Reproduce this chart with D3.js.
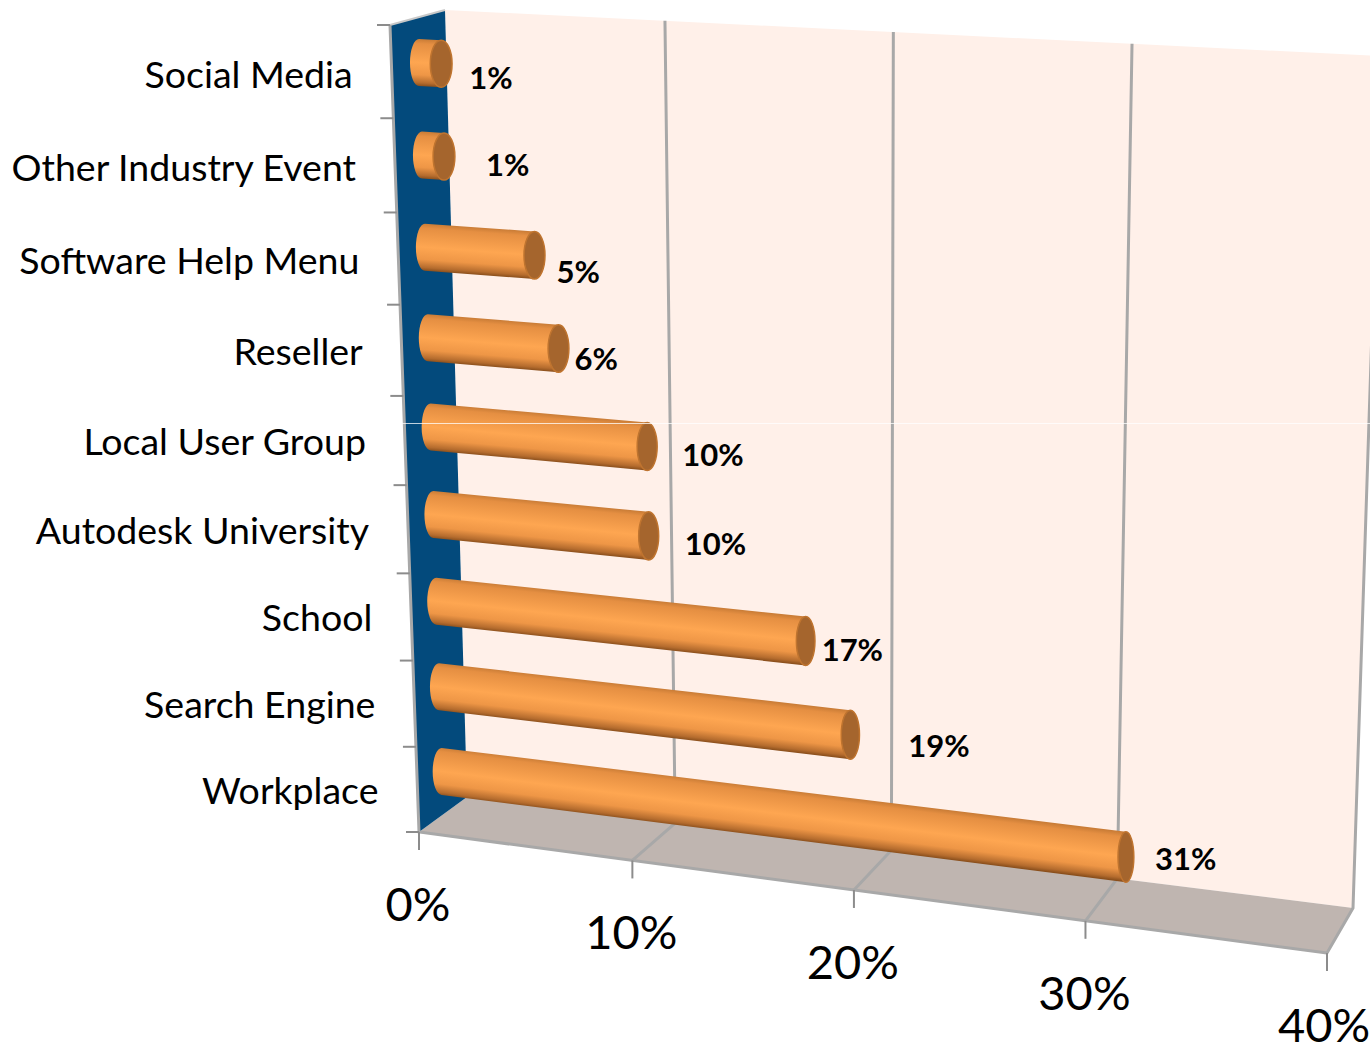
<!DOCTYPE html>
<html>
<head>
<meta charset="utf-8">
<script src="https://cdn.jsdelivr.net/npm/d3@7"></script>
<style>
  html, body { margin: 0; padding: 0; background: #fff; }
  svg { display: block; }
  text { font-family: Lato, "Noto Sans", sans-serif; fill: #000; }
</style>
</head>
<body>
<div id="chart"></div>
<script>
const categories = ["Social Media", "Other Industry Event", "Software Help Menu", "Reseller",
  "Local User Group", "Autodesk University", "School", "Search Engine", "Workplace"];
const values = [1, 1, 5, 6, 10, 10, 17, 19, 31];
const axisTicks = [0, 10, 20, 30, 40];

const width = 1370, height = 1048;

const svg = d3.select("#chart").append("svg")
  .attr("width", width)
  .attr("height", height);

// --- perspective: the value axis gets wider to the right, categories get tighter downward ---
const valueFrac = d3.scaleLinear().domain(axisTicks).range([0, 0.235, 0.479, 0.734, 1]);
const catFrac = d3.scaleLinear()
  .domain(d3.range(10))
  .range([25, 118, 212, 304, 395, 484, 572, 659, 745, 830].map(y => (y - 25) / 805));

const corners = {
  frontTop: [[390, 25], [1349, 78]],
  frontBottom: [[419, 832], [1327, 953]],
  backTop: [[445, 10], [1381, 56]],
  backBottom: [[467, 797], [1353, 908]]
};

const lerp = (a, b, t) => [a[0] + (b[0] - a[0]) * t, a[1] + (b[1] - a[1]) * t];

// v = value, c = category position (0..9), d = depth (0 front, 1 back)
function project(v, c, d) {
  const f = valueFrac(v), t = catFrac(c);
  const top = lerp(lerp(corners.frontTop[0], corners.frontTop[1], f), lerp(corners.backTop[0], corners.backTop[1], f), d);
  const bottom = lerp(lerp(corners.frontBottom[0], corners.frontBottom[1], f), lerp(corners.backBottom[0], corners.backBottom[1], f), d);
  return lerp(top, bottom, t);
}

const line = d3.line();
const lastCat = categories.length;
const maxV = axisTicks[axisTicks.length - 1];
const GRID = "#a8a8a8";

// --- walls and floor ---
svg.append("path")
  .attr("d", line([project(0, 0, 1), project(maxV, 0, 1), project(maxV, lastCat, 1), project(0, lastCat, 1)]) + "Z")
  .attr("fill", "#fff0e9");

svg.append("path")
  .attr("d", line([project(0, lastCat, 0), project(0, lastCat, 1), project(maxV, lastCat, 1), project(maxV, lastCat, 0)]) + "Z")
  .attr("fill", "#bfb5b0");

svg.selectAll(".grid")
  .data(axisTicks.slice(1))
  .join("path")
  .attr("class", "grid")
  .attr("fill", "none")
  .attr("stroke", GRID)
  .attr("stroke-width", 3)
  .attr("d", d => line([project(d, 0, 1), project(d, lastCat, 1), project(d, lastCat, 0)]));

svg.append("path")
  .attr("d", line([project(0, 0, 0), project(0, 0, 1), project(0, lastCat, 1), project(0, lastCat, 0)]) + "Z")
  .attr("fill", "#034a7c");

// left wall edges + front floor edge
svg.append("path")
  .attr("d", line([project(0, 0, 0), project(0, 0, 1)]))
  .attr("fill", "none")
  .attr("stroke", "#c8c8c8")
  .attr("stroke-width", 2);

svg.append("path")
  .attr("d", line([project(0, 0, 0), project(0, lastCat, 0), project(maxV, lastCat, 0)]))
  .attr("fill", "none")
  .attr("stroke", GRID)
  .attr("stroke-width", 3);

// --- axis ticks ---
svg.selectAll(".cat-tick")
  .data(d3.range(lastCat + 1))
  .join("line")
  .attr("class", "cat-tick")
  .attr("x1", d => project(0, d, 0)[0] - 13)
  .attr("x2", d => project(0, d, 0)[0])
  .attr("y1", d => project(0, d, 0)[1])
  .attr("y2", d => project(0, d, 0)[1])
  .attr("stroke", "#8c8c8c")
  .attr("stroke-width", 2);

svg.selectAll(".val-tick")
  .data(axisTicks)
  .join("line")
  .attr("class", "val-tick")
  .attr("x1", d => project(d, lastCat, 0)[0])
  .attr("x2", d => project(d, lastCat, 0)[0])
  .attr("y1", d => project(d, lastCat, 0)[1])
  .attr("y2", d => project(d, lastCat, 0)[1] + 18)
  .attr("stroke", "#8c8c8c")
  .attr("stroke-width", 2);

// --- tick labels ---
svg.selectAll(".val-label")
  .data(axisTicks)
  .join("text")
  .attr("class", "val-label")
  .attr("x", d => project(d, lastCat, 0)[0] - (d === maxV ? 3 : 1))
  .attr("y", d => project(d, lastCat, 0)[1] + 89)
  .attr("text-anchor", "middle")
  .attr("font-size", "47px")
  .text(d => d + "%");

svg.selectAll(".cat-label")
  .data(categories)
  .join("text")
  .attr("class", "cat-label")
  .attr("x", (d, i) => project(0, i + 0.5, 0)[0] - 39)
  .attr("y", (d, i) => project(0, i + 0.5, 0)[1] + 14.5 + Math.max(0, 2 - i * 0.6))
  .attr("text-anchor", "end")
  .attr("font-size", "37.5px")
  .text(d => d);

// --- bars ---
const bars = values.map((v, i) => {
  const s = project(0, i + 0.5, 0.5), e = project(v, i + 0.5, 0.5);
  const f = valueFrac(v);
  s[1] -= 1; e[1] -= 1;
  return { v, i, s, e, rs: 23.5, re: 23.5 * (1 + 0.1 * f), rx: 11 - 0.1 * v };
});

const defs = svg.append("defs");
const grads = defs.selectAll("linearGradient")
  .data(bars)
  .join("linearGradient")
  .attr("id", d => `tube${d.i}`)
  .attr("gradientUnits", "userSpaceOnUse")
  .each(function(d) {
    // gradient runs across the tube, not along it
    const dx = d.e[0] - d.s[0], dy = d.e[1] - d.s[1];
    const len = Math.hypot(dx, dy);
    const nx = -dy / len, ny = dx / len;
    const mx = (d.s[0] + d.e[0]) / 2, my = (d.s[1] + d.e[1]) / 2;
    const r = (d.rs + d.re) / 2;
    d3.select(this)
      .attr("x1", mx - nx * r).attr("y1", my - ny * r)
      .attr("x2", mx + nx * r).attr("y2", my + ny * r);
  });

grads.selectAll("stop")
  .data([[0, "#c97c36"], [0.1, "#e58f42"], [0.5, "#fea651"], [0.76, "#ee9646"], [0.93, "#b56c2e"], [1, "#8a4f1c"]])
  .join("stop")
  .attr("offset", d => d[0])
  .attr("stop-color", d => d[1]);

const barG = svg.selectAll(".bar")
  .data(bars)
  .join("g")
  .attr("class", "bar");

barG.append("path")
  .attr("fill", d => `url(#tube${d.i})`)
  .attr("d", d => `M${d.s[0]},${d.s[1] - d.rs}L${d.e[0]},${d.e[1] - d.re}`
    + `A${d.rx},${d.re} 0 0 1 ${d.e[0]},${d.e[1] + d.re}`
    + `L${d.s[0]},${d.s[1] + d.rs}`
    + `A9,${d.rs} 0 0 1 ${d.s[0]},${d.s[1] - d.rs}Z`);

barG.append("ellipse")
  .attr("cx", d => d.e[0])
  .attr("cy", d => d.e[1])
  .attr("rx", d => d.rx)
  .attr("ry", d => d.re)
  .attr("fill", "#a5652d")
  .attr("stroke", "#bf742f")
  .attr("stroke-width", 1.5);

// thin light seam across the picture
svg.append("line")
  .attr("x1", 402).attr("x2", width)
  .attr("y1", 423.5).attr("y2", 423.5)
  .attr("stroke", "#fff")
  .attr("stroke-opacity", 0.75)
  .attr("stroke-width", 1);

// --- value labels, nudged off the bar ends the way the chart has them ---
const labelNudge = [[29, 14], [43, 8], [23, 17], [17, 10], [36, 8], [37, 8], [17, 9], [59, 11], [30, 2]];

svg.selectAll(".val")
  .data(bars)
  .join("text")
  .attr("class", "val")
  .attr("x", d => d.e[0] + labelNudge[d.i][0] - 1)
  .attr("y", d => d.e[1] + labelNudge[d.i][1] + 11)
  .attr("font-size", "31px")
  .attr("font-weight", "700")
  .text(d => d.v + "%");
</script>
</body>
</html>
